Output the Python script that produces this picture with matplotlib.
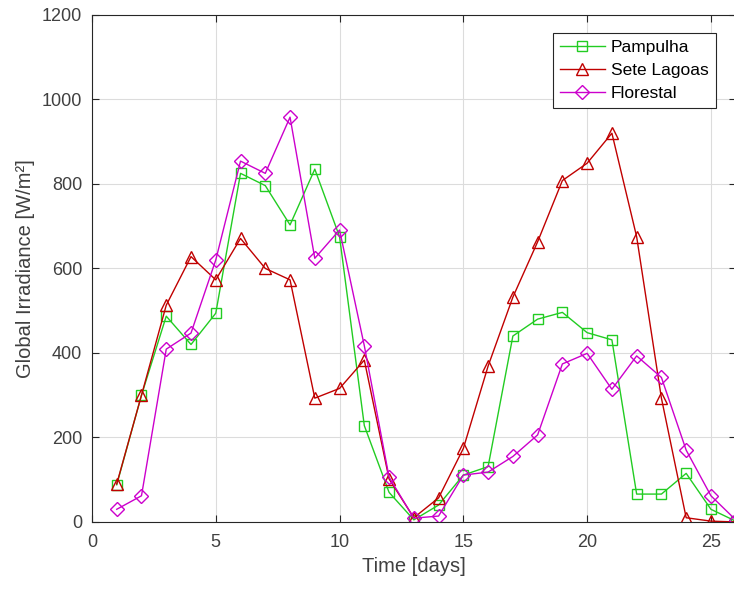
import matplotlib
matplotlib.use('Agg')
import matplotlib.pyplot as plt

plt.rcParams['font.family'] = ['Liberation Sans', 'DejaVu Sans']

days = list(range(1, 27))

pampulha = [88, 300, 487, 420, 494, 825, 796, 703, 835, 675, 228, 70, 5,
            40, 111, 131, 440, 480, 496, 448, 431, 66, 66, 115, 30, 2]
sete_lagoas = [90, 300, 513, 628, 573, 671, 600, 573, 293, 316, 383, 102, 10,
               57, 174, 369, 532, 663, 808, 849, 920, 675, 293, 10, 2, 0]
florestal = [30, 62, 409, 447, 620, 854, 825, 958, 624, 691, 417, 106, 9,
             14, 111, 118, 155, 206, 374, 399, 314, 393, 342, 170, 62, 5]

fig = plt.figure(figsize=(7.34, 5.91), dpi=100)
ax = fig.add_axes([0.1253, 0.1168, 0.877, 0.858])

ax.plot(days, pampulha, color='#22cc22', marker='s', mfc='none', ms=7, lw=1, label='Pampulha')
ax.plot(days, sete_lagoas, color='#c00000', marker='^', mfc='none', ms=8, lw=1, label='Sete Lagoas')
ax.plot(days, florestal, color='#cc00cc', marker='D', mfc='none', ms=7, lw=1, label='Florestal')

ax.set_xlim(0, 26)
ax.set_ylim(0, 1200)
ax.set_xticks([0, 5, 10, 15, 20, 25])
ax.set_yticks(range(0, 1201, 200))
ax.grid(True, color='#dcdcdc', lw=0.8)
ax.set_axisbelow(True)
ax.tick_params(direction='in', top=True, right=True, labelsize=13, colors='#262626',
               labelcolor='#404040', length=5)
ax.tick_params(axis='x', pad=9)
ax.tick_params(axis='y', pad=7)
for s in ax.spines.values():
    s.set_color('#262626')
    s.set_linewidth(0.8)

ax.set_xlabel('Time [days]', fontsize=14.5, color='#404040', labelpad=4)
ax.set_ylabel('Global Irradiance [W/m²]', fontsize=14.5, color='#404040', labelpad=5)

leg = ax.legend(loc='upper right', bbox_to_anchor=(0.969, 0.9645), fontsize=12.5,
                fancybox=False, edgecolor='#262626', framealpha=1,
                handlelength=2.6, borderpad=0.4, labelspacing=0.45, handletextpad=0.35,
                borderaxespad=0)
leg.get_frame().set_linewidth(0.8)

fig.savefig('out.png', dpi=100)
